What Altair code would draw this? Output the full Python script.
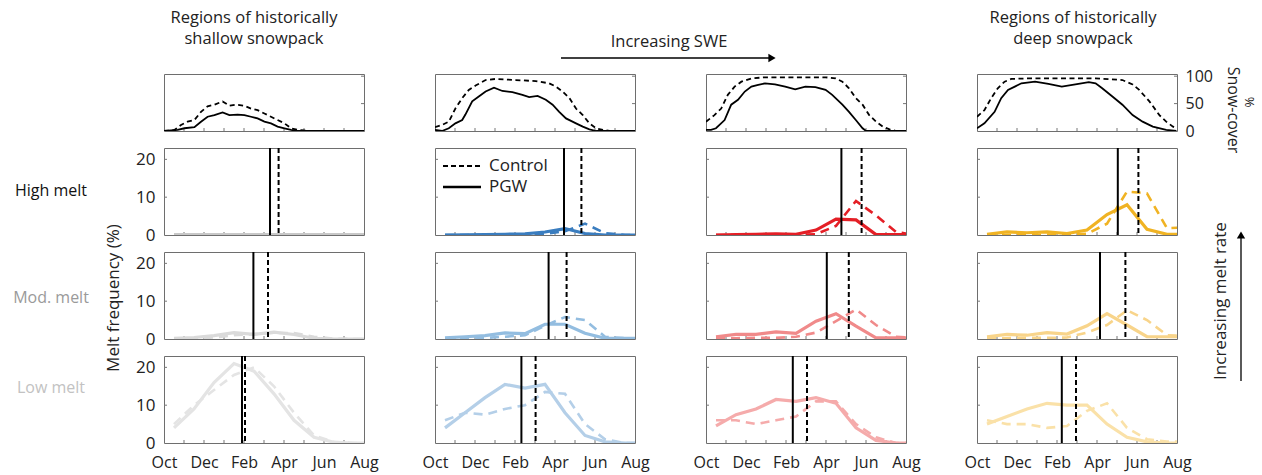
import json
import altair as alt
import pandas as pd

FONT = "Open Sans"

# ---------------- data ----------------
MONTH_MID = [0.5, 1.5, 2.5, 3.5, 4.5, 5.5, 6.5, 7.5, 8.5, 9.5, 10.5]
MONTH_LABEL_POS = [0, 2, 4, 6, 8, 10]
MONTH_LABELS = ["Oct", "Dec", "Feb", "Apr", "Jun", "Aug"]
MINOR_TICKS = [1, 2, 3, 4, 5, 6, 7, 8, 9]

ROWS = ["High melt", "Mod. melt", "Low melt"]
ROW_LABEL_COLORS = ["#111111", "#9a9a9a", "#c2c2c2"]

COLORS = [
    ["#c8c8c8", "#dadada", "#e4e4e4"],
    ["#3a7dbf", "#93bde0", "#b4cfe8"],
    ["#e41f26", "#f08a8a", "#f5abab"],
    ["#f0b323", "#f8d48a", "#fae1a8"],
]

# melt frequency (%) at mid-month, [column][row]
PGW = [
    [[0.1, 0.1, 0.1, 0.1, 0.1, 0.1, 0.1, 0.1, 0.1, 0.1, 0.1],
     [0.2, 0.4, 0.9, 1.7, 1.2, 1.8, 1.2, 0.2, 0.0, 0.0, 0.0],
     [4, 9, 16, 21, 19, 13, 6, 1.5, 0.2, 0, 0]],
    [[0.0, 0.05, 0.1, 0.2, 0.3, 0.8, 1.7, 0.4, 0.0, 0.0, 0.0],
     [0.3, 0.6, 0.9, 1.6, 1.4, 3.9, 3.9, 1.5, 0.2, 0.2, 0.2],
     [4, 8, 12, 15.5, 14.5, 15.5, 8, 2, 0.3, 0, 0]],
    [[0.0, 0.1, 0.2, 0.3, 0.2, 1.3, 4.2, 4.0, 0.1, 0.1, 0.1],
     [0.6, 1.2, 1.2, 1.9, 1.5, 4.7, 6.7, 3.4, 0.3, 0.3, 0.3],
     [4.5, 7.5, 9, 11.5, 11, 12, 10.5, 4, 0.7, 0, 0]],
    [[0.2, 0.8, 0.6, 0.8, 0.4, 1.3, 5.4, 8.0, 1.5, 0.2, 0.2],
     [0.6, 1.2, 1.0, 1.7, 1.3, 3.5, 6.7, 3.7, 0.6, 0.6, 0.6],
     [5, 7, 9, 10.5, 10, 10, 5, 1.5, 0.3, 0, 0]],
]
CONTROL = [
    [[0.1, 0.1, 0.1, 0.1, 0.1, 0.1, 0.1, 0.1, 0.1, 0.1, 0.1],
     [0.0, 0.1, 0.4, 1.0, 1.3, 1.6, 1.6, 0.6, 0.1, 0.0, 0.0],
     [5, 10, 14, 18, 20, 15, 8, 2, 0.3, 0, 0]],
    [[0.0, 0.0, 0.0, 0.1, 0.1, 0.3, 1.0, 3.0, 0.5, 0.0, 0.0],
     [0.2, 0.3, 0.3, 0.6, 1.0, 3.5, 5.8, 5.0, 0.6, 0.2, 0.2],
     [6, 8, 7.5, 9, 10, 13.5, 13, 5, 1, 0, 0]],
    [[0.0, 0.0, 0.0, 0.1, 0.1, 0.2, 2.4, 9.0, 5.2, 0.8, 0.0],
     [0.2, 0.2, 0.3, 0.3, 0.6, 1.7, 4.7, 7.8, 3.7, 0.6, 0.3],
     [6, 6, 5, 6, 7, 11, 11, 5, 1.5, 0, 0]],
    [[0.0, 0.0, 0.0, 0.1, 0.1, 0.3, 3.0, 11.5, 11.0, 1.8, 2.0],
     [0.2, 0.2, 0.3, 0.3, 0.4, 1.7, 3.7, 7.6, 5.0, 1.0, 0.8],
     [6, 5, 5, 4, 4.5, 8.5, 10.5, 4, 1, 0.4, 0.4]],
]

# timing lines (month index): [column][row] = (PGW, Control)
TIMING = [
    [(5.3, 5.73), (4.47, 5.2), (3.9, 4.05)],
    [(6.45, 7.32), (5.68, 6.58), (4.32, 5.03)],
    [(6.77, 7.78), (6.04, 7.14), (4.34, 5.05)],
    [(7.04, 8.07), (6.15, 7.42), (4.24, 4.95)],
]

# snow cover (%) : month positions and values per column
SNOW_CTRL_M = [
    [0, 0.52, 0.85, 1.18, 1.52, 1.85, 2.18, 2.52, 2.93, 3.27, 3.6, 4.02, 4.35, 4.68, 5.02, 5.35, 5.68, 6.02, 6.35, 6.68, 7.02, 7.35, 10],
    [0, 0.35, 0.69, 1.02, 1.36, 1.69, 2.03, 2.53, 3.03, 4.04, 5.04, 5.71, 6.05, 6.38, 6.72, 7.05, 7.39, 7.72, 8.06, 8.39, 8.73, 10],
    [0, 0.42, 0.76, 1.09, 1.43, 1.77, 2.27, 2.95, 5.98, 6.48, 6.82, 7.15, 7.49, 7.83, 8.16, 8.5, 8.84, 9.18, 9.51, 10],
    [0, 0.37, 0.71, 1.04, 1.38, 1.72, 2.56, 5.93, 7.27, 7.78, 8.11, 8.62, 9.12, 9.46, 9.8, 10],
]
SNOW_CTRL_V = [
    [0, 1.8, 11, 17, 20, 35, 45, 48, 54, 46, 48, 46, 41, 38, 32, 26, 20, 14, 5, 2, 1, 0, 0],
    [7, 11, 17, 41, 60, 75, 83, 93, 95, 93, 91, 87, 81, 72, 60, 41, 29, 14, 5, 2, 0, 0],
    [17, 29, 41, 66, 81, 90, 96, 98, 98, 96, 90, 78, 60, 48, 29, 17, 8, 3, 0, 0],
    [26, 38, 60, 78, 90, 95, 96, 96, 93, 85, 75, 54, 29, 17, 8, 5],
]
SNOW_PGW_M = [
    [0, 0.68, 1.02, 1.52, 1.85, 2.18, 2.52, 2.93, 3.27, 3.68, 4.02, 4.35, 4.68, 5.02, 5.35, 5.68, 6.02, 6.35, 6.68, 10],
    [0, 0.35, 0.69, 1.02, 1.36, 1.52, 1.86, 2.19, 2.53, 2.95, 3.37, 3.87, 4.37, 4.71, 5.13, 5.54, 5.88, 6.21, 6.55, 7.05, 7.39, 7.72, 8.06, 10],
    [0, 0.25, 0.5, 0.93, 1.26, 1.6, 1.94, 2.27, 2.61, 2.95, 3.45, 3.96, 4.46, 4.97, 5.47, 5.98, 6.31, 6.82, 7.15, 7.49, 7.83, 8.0, 10],
    [0, 0.37, 0.88, 1.21, 1.55, 1.89, 2.22, 2.9, 3.57, 4.24, 4.92, 5.59, 5.93, 6.26, 6.77, 7.27, 7.78, 8.28, 8.79, 9.46, 9.97],
]
SNOW_PGW_V = [
    [0, 2, 5, 7, 17, 26, 29, 34, 29, 30, 29, 26, 23, 17, 14, 8, 5, 2, 0, 0],
    [2, 0, 5, 14, 20, 30, 54, 63, 72, 79, 73, 71, 66, 62, 64, 57, 48, 35, 23, 14, 8, 3, 0, 0],
    [2, 2, 5, 20, 48, 57, 72, 81, 84, 87, 85, 81, 76, 81, 80, 75, 66, 48, 35, 20, 5, 0, 0],
    [5, 14, 35, 60, 75, 81, 87, 90, 86, 81, 85, 89, 87, 78, 63, 48, 29, 17, 8, 2, 0],
]

TOP_LEFT_TITLE = ["Regions of historically", "shallow snowpack"]
TOP_RIGHT_TITLE = ["Regions of historically", "deep snowpack"]
SWE_LABEL = "Increasing SWE"
YTITLE = "Melt frequency (%)"
RATE_LABEL = "Increasing melt rate"
SNOW_TITLE = ["%", "Snow-cover"]
LEGEND = ["Control", "PGW"]

# ---------------- layout ----------------
W, H_SNOW, H_MELT = 200, 57, 87
ONE = pd.DataFrame({"k": [0]})

xscale = alt.Scale(domain=[0, 10], nice=False, zero=False)
ymelt = alt.Scale(domain=[0, 23], nice=False)
ysnow = alt.Scale(domain=[0, 104], nice=False)

label_expr = json.dumps(MONTH_LABELS) + "[round(datum.value/2)]"


def X(show):
    if show:
        ax = alt.Axis(values=MONTH_LABEL_POS, labelExpr=label_expr, ticks=False, tickSize=0,
                      domain=False, grid=False, title=None, labelFontSize=16,
                      labelPadding=11, labelFlush=False, labelColor="#222", labelFont=FONT)
    else:
        ax = None
    return alt.X("m:Q", scale=xscale, axis=ax)


def Ymelt(show):
    if show:
        ax = alt.Axis(values=[0, 10, 20], ticks=False, tickSize=0, domain=False, grid=False,
                      title=None, labelFontSize=17, labelPadding=9, labelColor="#222", labelFont=FONT)
    else:
        ax = None
    return alt.Y("v:Q", scale=ymelt, axis=ax)


def Ysnow(show):
    if show:
        ax = alt.Axis(values=[0, 50, 100], orient="right", ticks=False, tickSize=0, domain=False,
                      grid=False, title=None, labelFontSize=16, labelPadding=8, labelColor="#222",
                      labelFont=FONT)
    else:
        ax = None
    return alt.Y("v:Q", scale=ysnow, axis=ax)


def text(s, x, y, size=16.5, color="#222", angle=0, align="center", baseline="middle"):
    return alt.Chart(pd.DataFrame({"t": [s]})).mark_text(
        font=FONT, fontSize=size, color=color, angle=angle, align=align, baseline=baseline,
        lineBreak="\n", lineHeight=21
    ).encode(x=alt.value(x), y=alt.value(y), text="t:N")


def hline(x1, x2, y, dash=None, width=2, color="black"):
    kw = dict(color=color, strokeWidth=width)
    if dash:
        kw["strokeDash"] = dash
    return alt.Chart(ONE).mark_rule(**kw).encode(
        x=alt.value(x1), x2=alt.value(x2), y=alt.value(y), y2=alt.value(y))


def tri(x, y, shape):
    return alt.Chart(ONE).mark_point(shape=shape, filled=True, color="black", size=70, opacity=1).encode(
        x=alt.value(x), y=alt.value(y))


def bottom_ticks(xe, height):
    return alt.Chart(pd.DataFrame({"m": MINOR_TICKS})).mark_rule(color="#777", strokeWidth=1).encode(
        x=xe, y=alt.value(height), y2=alt.value(height - 3))


def snow_panel(c):
    xe = X(False)
    ye = Ysnow(c == 3)
    dfc = pd.DataFrame({"m": SNOW_CTRL_M[c], "v": SNOW_CTRL_V[c]})
    dfp = pd.DataFrame({"m": SNOW_PGW_M[c], "v": SNOW_PGW_V[c]})
    layers = [bottom_ticks(xe, H_SNOW)]
    layers.append(alt.Chart(pd.DataFrame({"v": [50, 100]})).mark_rule(color="#777").encode(
        y=ye, x=alt.value(W), x2=alt.value(W - 3)))
    layers.append(alt.Chart(dfc).mark_line(color="black", strokeWidth=1.8, strokeDash=[5, 3.5], clip=True)
                  .encode(x=xe, y=ye, order="m:Q"))
    layers.append(alt.Chart(dfp).mark_line(color="black", strokeWidth=1.8, clip=True)
                  .encode(x=xe, y=ye, order="m:Q"))
    if c == 0:
        # anchor so that this panel sits at (163, 73) on the page
        layers.append(alt.Chart(ONE).mark_rule(strokeOpacity=0, opacity=0).encode(
            x=alt.value(-163), x2=alt.value(-162), y=alt.value(-73), y2=alt.value(-72)))
        layers.append(text("\n".join(TOP_LEFT_TITLE), 90, -64, baseline="top"))
    if c == 1:
        layers.append(text(SWE_LABEL, 234, -32))
        layers.append(hline(126, 335, -16, width=1.3))
        layers.append(tri(337, -16, "triangle-right"))
    if c == 3:
        layers.append(text("\n".join(TOP_RIGHT_TITLE), 96, -64, baseline="top"))
        layers.append(text(SNOW_TITLE[1], 256, 36, size=16, angle=90))
        layers.append(text(SNOW_TITLE[0], 272, 28, size=13, angle=90))
    return alt.layer(*layers).properties(width=W, height=H_SNOW)


def melt_panel(c, r):
    xe = X(r == 2)
    ye = Ymelt(c == 0)
    col = COLORS[c][r]
    dfp = pd.DataFrame({"m": MONTH_MID, "v": PGW[c][r]})
    dfc = pd.DataFrame({"m": MONTH_MID, "v": CONTROL[c][r]})
    pg, ct = TIMING[c][r]
    layers = [bottom_ticks(xe, H_MELT)]
    layers.append(alt.Chart(pd.DataFrame({"v": [10, 20]})).mark_rule(color="#777").encode(
        y=ye, x=alt.value(0), x2=alt.value(3)))
    layers.append(alt.Chart(dfc).mark_line(color=col, strokeWidth=2.6, strokeDash=[9, 6], clip=True)
                  .encode(x=xe, y=ye, order="m:Q"))
    layers.append(alt.Chart(dfp).mark_line(color=col, strokeWidth=3.2, clip=True)
                  .encode(x=xe, y=ye, order="m:Q"))
    layers.append(alt.Chart(pd.DataFrame({"m": [pg]})).mark_rule(color="black", strokeWidth=2)
                  .encode(x=xe))
    layers.append(alt.Chart(pd.DataFrame({"m": [ct]})).mark_rule(color="black", strokeWidth=2,
                                                                 strokeDash=[5, 3]).encode(x=xe))
    if c == 0:
        ys = [43, 46, 32]
        layers.append(text(ROWS[r], -113, ys[r], size=16, color=ROW_LABEL_COLORS[r]))
        if r == 1:
            layers.append(text(YTITLE, -50, 46, size=17, angle=270))
    if c == 1 and r == 0:
        layers.append(hline(8, 46, 18, dash=[5, 3], width=2))
        layers.append(hline(8, 46, 39, width=2.5))
        layers.append(text(LEGEND[0], 54, 18, size=17, align="left"))
        layers.append(text(LEGEND[1], 54, 39, size=17, align="left"))
    if c == 3 and r == 1:
        layers.append(text(RATE_LABEL, 244, 49, size=17, angle=270))
        layers.append(alt.Chart(ONE).mark_rule(color="black", strokeWidth=1.3).encode(
            x=alt.value(264), x2=alt.value(264), y=alt.value(129), y2=alt.value(-14)))
        layers.append(tri(264, -17, "triangle-up"))
    return alt.layer(*layers).properties(width=W, height=H_MELT)


panels = [snow_panel(c) for c in range(4)]
for r in range(3):
    for c in range(4):
        panels.append(melt_panel(c, r))

chart = alt.concat(*panels, columns=4, spacing={"row": 17, "column": 71}, bounds="flush").properties(
    padding={"left": 0, "top": 0, "right": 6, "bottom": 4}, background="white"
).configure_view(stroke="#6e6e6e", strokeWidth=1).configure_axis(labelFont=FONT)

chart.save("out.html", embed_options={"renderer": "svg", "actions": False})
